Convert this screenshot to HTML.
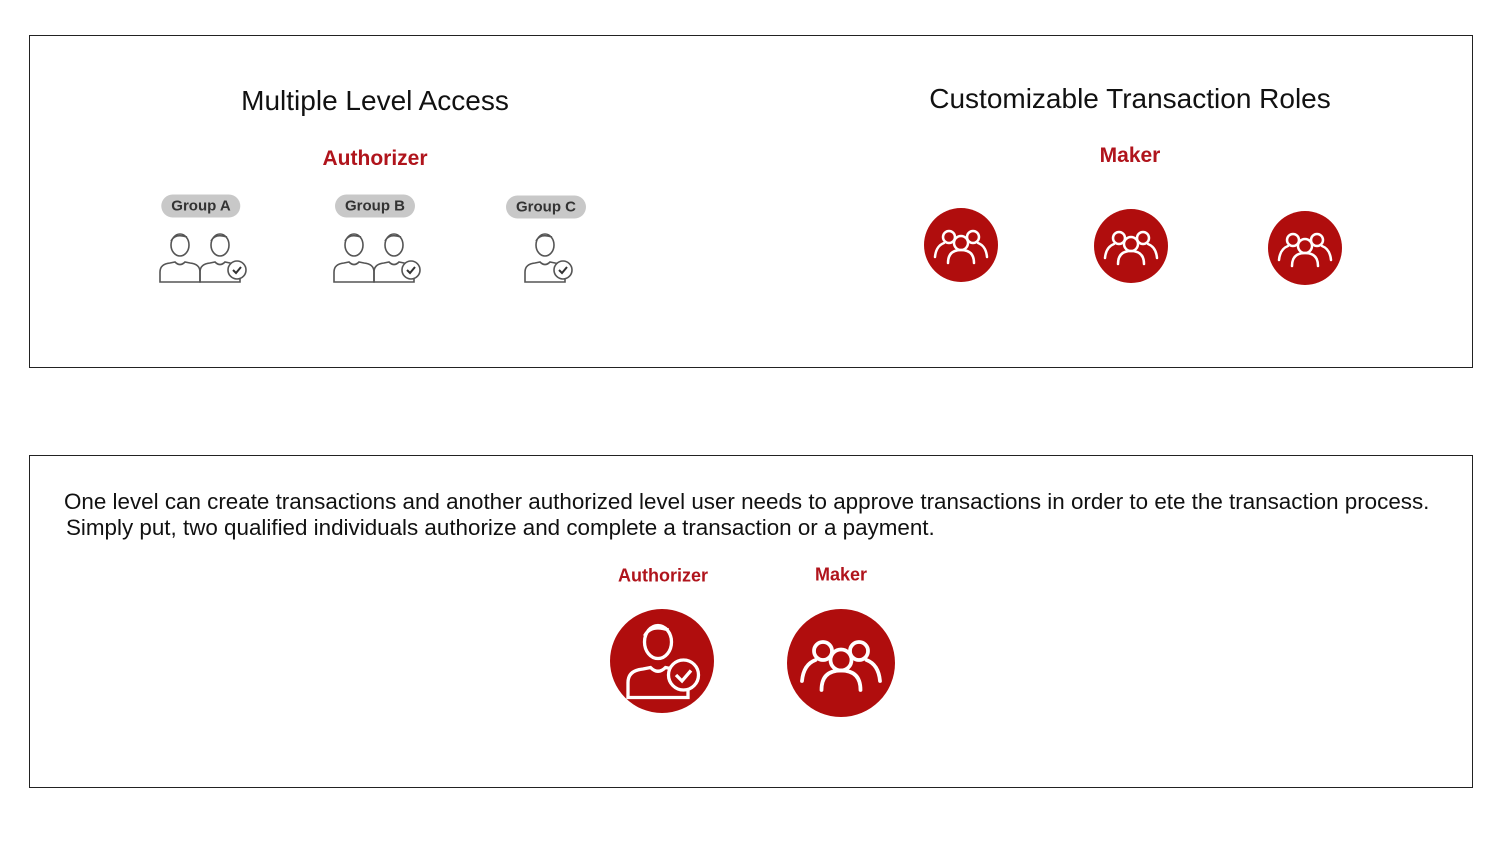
<!DOCTYPE html>
<html><head><style>
body{margin:0;width:1508px;height:850px;background:#fff;position:relative;overflow:hidden;font-family:"Liberation Sans",sans-serif}
.box{position:absolute;border:1px solid #222;box-sizing:border-box}
.t{position:absolute;white-space:nowrap;transform:translate(-50%,-50%)}
.red{color:#b0141c;font-weight:bold}
.pill{position:absolute;transform:translate(-50%,-50%);background:#c8c8c8;border-radius:12px;font-weight:bold;font-size:15px;color:#333;padding:3px 10px;white-space:nowrap}
</style></head><body>
<div class="box" style="left:29px;top:35px;width:1444px;height:333px"></div>
<div class="box" style="left:29px;top:455px;width:1444px;height:333px"></div>
<div class="t" style="left:375px;top:101px;font-size:28px;color:#111">Multiple Level Access</div>
<div class="t" style="left:1130px;top:99px;font-size:28px;color:#111">Customizable Transaction Roles</div>
<div class="t red" style="left:375px;top:159px;font-size:21px">Authorizer</div>
<div class="t red" style="left:1130px;top:156px;font-size:21px">Maker</div>
<div class="pill" style="left:201px;top:206px">Group A</div>
<div class="pill" style="left:375px;top:206px">Group B</div>
<div class="pill" style="left:546px;top:207px">Group C</div>
<div style="position:absolute;left:64px;top:489px;font-size:22.4px;color:#111;line-height:26px">One level can create transactions and another authorized level user needs to approve transactions in order to ete the transaction process.</div>
<div style="position:absolute;left:66px;top:515px;font-size:22.4px;color:#111;line-height:26px">Simply put, two qualified individuals authorize and complete a transaction or a payment.</div>
<div class="t red" style="left:663px;top:576px;font-size:18px">Authorizer</div>
<div class="t red" style="left:841px;top:575px;font-size:18px">Maker</div>
<svg width="1508" height="850" style="position:absolute;left:0;top:0">
<defs>
<g id="p" fill="none" stroke="#555" stroke-width="1.6">
<path d="M-9,-12 a9,11 0 1,0 18,0 a9,11 0 1,0 -18,0 M-9,-16 q4,-8 16,-4"/>
<path d="M-20,25 v-10 q0,-8 10,-9 l5,-1 q5,5 10,0 l5,1 q10,1 10,9 v10 z"/>
</g>
<g id="chk"><circle r="9" fill="#fff" stroke="#555" stroke-width="1.6"/><path d="M-4,0 l3,3 l5,-6" fill="none" stroke="#333" stroke-width="2"/></g>
<g id="grp" fill="none" stroke="#fff" stroke-width="2.5" stroke-linecap="round">
<circle cx="0" cy="-4" r="7"/><path d="M-13,16 q0,-13 13,-13 q13,0 13,13"/>
<circle cx="-12" cy="-10" r="6"/><circle cx="12" cy="-10" r="6"/>
<path d="M-17,-4 q-8,3 -9,14 M17,-4 q8,3 9,14"/>
</g>
</defs>
<use href="#p" x="180" y="257"/><use href="#p" x="220" y="257"/><use href="#chk" x="237" y="270"/>
<use href="#p" x="354" y="257"/><use href="#p" x="394" y="257"/><use href="#chk" x="411" y="270"/>
<use href="#p" x="545" y="257"/><use href="#chk" x="563" y="270"/>
<circle cx="961" cy="245" r="37" fill="#b00d0d"/><use href="#grp" x="961" y="247"/>
<circle cx="1131" cy="246" r="37" fill="#b00d0d"/><use href="#grp" x="1131" y="248"/>
<circle cx="1305" cy="248" r="37" fill="#b00d0d"/><use href="#grp" x="1305" y="250"/>
<circle cx="662" cy="661" r="52" fill="#b00d0d"/>
<g transform="translate(658,660) scale(1.5)" fill="none" stroke="#fff" stroke-width="2.2">
<path d="M-9,-12 a9,11 0 1,0 18,0 a9,11 0 1,0 -18,0 M-9,-16 q4,-8 16,-4"/>
<path d="M-20,25 v-10 q0,-8 10,-9 l5,-1 q5,5 10,0 l5,1 q10,1 10,9 v10 z"/>
<circle cx="17" cy="10" r="10" fill="#b00d0d"/><path d="M12,10 l4,4 l6,-7"/>
</g>
<circle cx="841" cy="663" r="54" fill="#b00d0d"/><use href="#grp" transform="translate(841,666) scale(1.5)"/>
</svg>
</body></html>
